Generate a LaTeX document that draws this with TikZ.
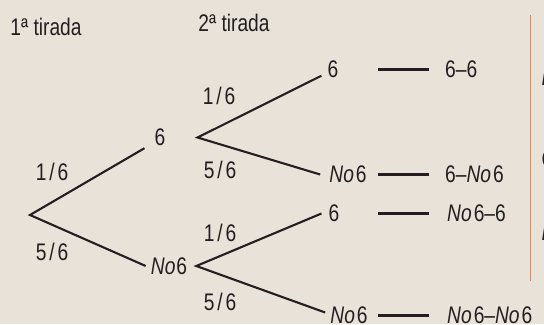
\documentclass[tikz,border=0pt]{standalone}
\usepackage{fontspec}
\setmainfont{Liberation Sans}[FakeStretch=0.8]
\definecolor{bg}{RGB}{233,226,216}
\definecolor{ink}{RGB}{35,31,32}
\definecolor{rule}{RGB}{228,136,80}
\tikzset{
  lbl/.style={text=ink, inner sep=0pt, font=\fontsize{24bp}{28bp}\selectfont},
  branch/.style={draw=ink, line width=2.1bp, line join=miter},
  dashln/.style={draw=ink, line width=2.3bp},
  vrule/.style={draw=rule, line width=1.4bp}
}
\newcommand{\fr}[2]{#1\hspace{0.12em}/\hspace{0.12em}#2}
\begin{document}
\begin{tikzpicture}[x=1bp,y=-1bp]
\useasboundingbox (0,0) rectangle (544,324);
\fill[bg] (0,0) rectangle (544,324);
\clip (0,0) rectangle (544,324);
% headers
\node[lbl] (h1) at (46,26.5) {1ª tirada};
\node[lbl] (h2) at (234,23) {2ª tirada};
% first level
\coordinate (root) at (30,215);
\node[lbl, inner xsep=10bp, inner ysep=2bp] (a6) at (160,137.5) {6};
\node[lbl, inner xsep=5bp] (aN) at (169,266) {\textit{No}\hspace{1bp}6};
\draw[branch] (a6.south west) -- (root) -- (aN.west);
\node[lbl] (p1) at (52,172) {\fr16};
\node[lbl] (p2) at (52,252) {\fr56};
% second level
\coordinate (v1) at ([xshift=22bp]a6.east);
\coordinate (v2) at ([xshift=4bp]aN.east);
\node[lbl, inner xsep=6bp] (l1) at (333,69) {6};
\node[lbl, inner xsep=9bp] (l2) at (348,174.5) {\textit{No}\hspace{2bp}6};
\node[lbl, inner xsep=7bp] (l3) at (334,213.5) {6};
\node[lbl, inner xsep=5bp] (l4) at (349,315.5) {\textit{No}\hspace{2bp}6};
\draw[branch] ([yshift=2bp]l1.south west) -- (v1) -- (l2.west);
\draw[branch] (l3.west) -- (v2) -- ([yshift=3bp]l4.west);
\node[lbl] (p3) at (219,96) {\fr16};
\node[lbl] (p4) at (220,170) {\fr56};
\node[lbl] (p5) at (220,233) {\fr16};
\node[lbl] (p6) at (220,302) {\fr56};
% results
\node[lbl, anchor=west] (r1) at (445,69.5) {6–6};
\node[lbl, anchor=west] (r2) at (445,174.5) {6–\textit{No}\hspace{2bp}6};
\node[lbl, anchor=west] (r3) at (447,213.5) {\textit{No}\hspace{2bp}6–6};
\node[lbl, anchor=west] (r4) at (447,315.5) {\textit{No}\hspace{2bp}6–\textit{No}\hspace{2bp}6};
\coordinate (dx) at (378,0);
\coordinate (dy) at (429,0);
\foreach \r in {r1,r2,r3,r4}{
  \draw[dashln] (dx |- \r.west) -- (dy |- \r.west);
}
% orange rule
\coordinate (o1) at (530.5,15);
\coordinate (o2) at (530.5,281);
\draw[vrule] (o1) -- (o2);
% clipped letters at the right edge
\node[lbl, anchor=base west] (c1) at (541.5,85) {\textit{P}};
\node[lbl, anchor=base west] (c2) at (541.5,167) {C};
\node[lbl, anchor=base west] (c3) at (541.5,240) {\textit{P}};
\end{tikzpicture}
\end{document}
